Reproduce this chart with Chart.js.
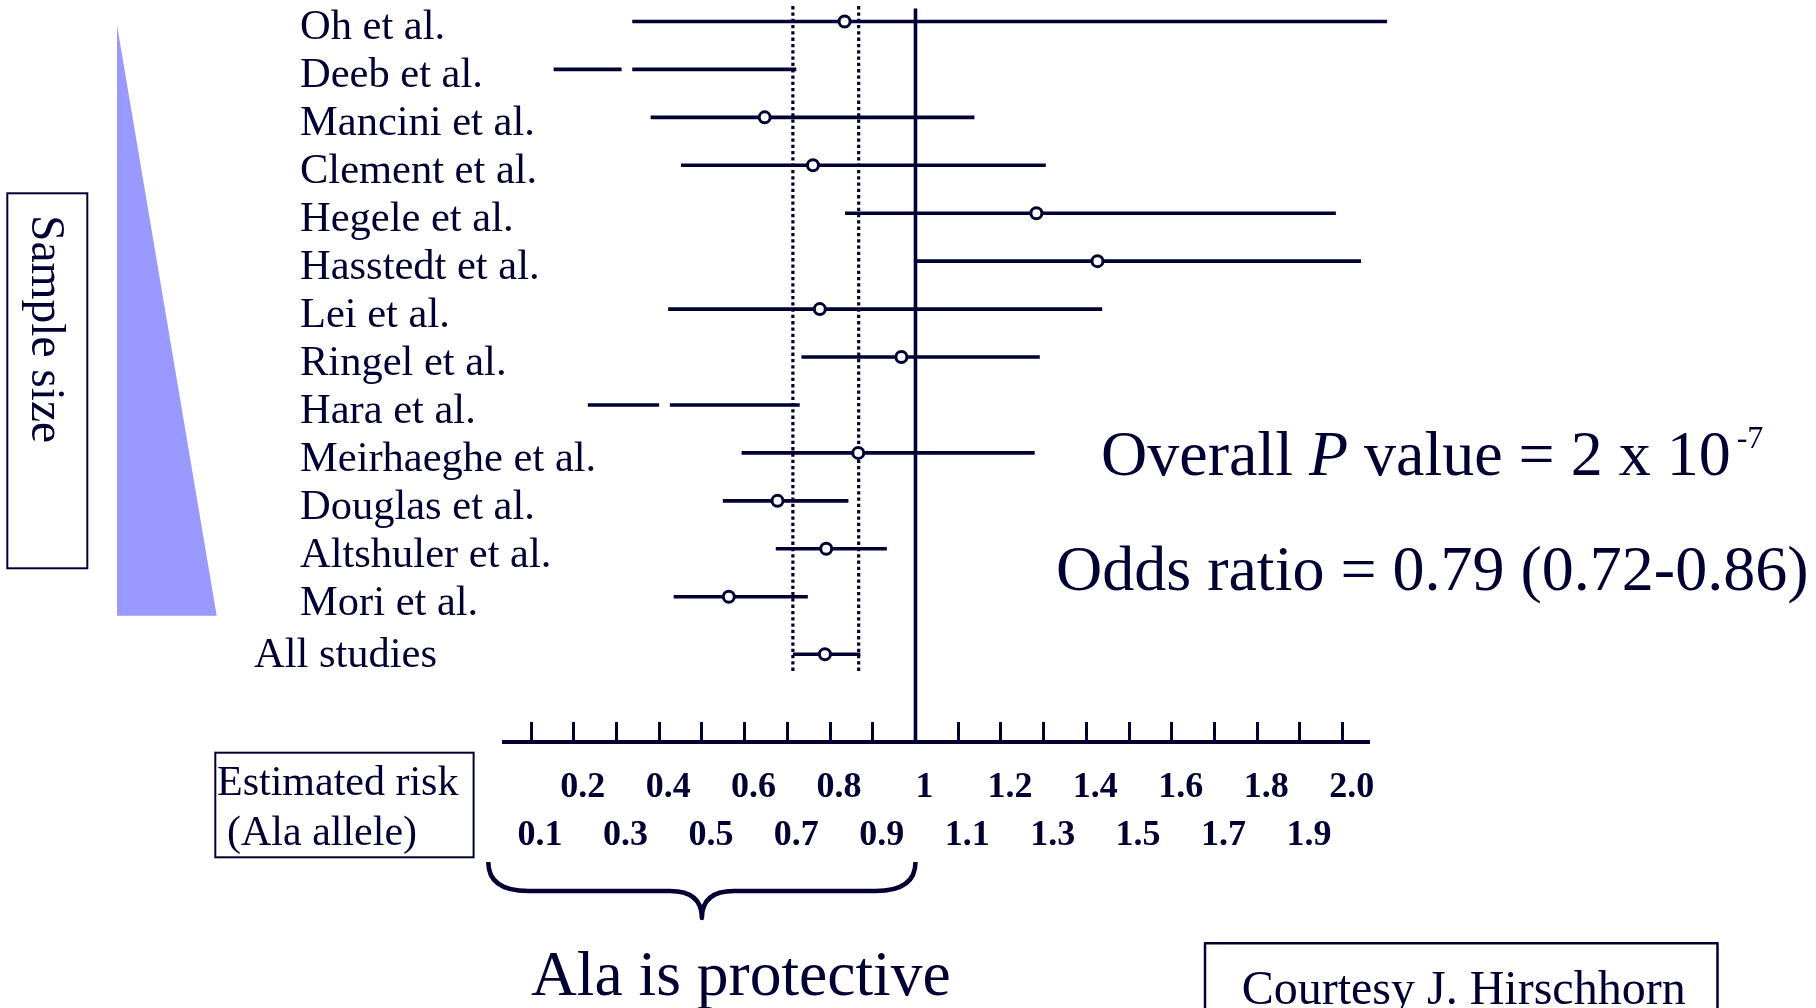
<!DOCTYPE html>
<html>
<head>
<meta charset="utf-8">
<title>Pro12Ala meta-analysis</title>
<script src="https://cdn.jsdelivr.net/npm/chart.js@4/dist/chart.umd.min.js"></script>
<style>
  html, body { margin: 0; padding: 0; background: #fff; }
  #wrap { width: 1816px; height: 1008px; }
</style>
</head>
<body>
<div id="wrap"><canvas id="forest" width="1816" height="1008"></canvas></div>
<script>
// studies, top to bottom (largest sample last), pooled result at the end
const studies = ['Oh et al.', 'Deeb et al.', 'Mancini et al.', 'Clement et al.', 'Hegele et al.',
  'Hasstedt et al.', 'Lei et al.', 'Ringel et al.', 'Hara et al.', 'Meirhaeghe et al.',
  'Douglas et al.', 'Altshuler et al.', 'Mori et al.', 'All studies'];
const oddsRatio = [0.834, null, 0.647, 0.760, 1.283, 1.426, 0.776, 0.967, null, 0.866, 0.677, 0.791, 0.563, 0.788];
const ciLow  = [0.337, 0.153, 0.380, 0.451, 0.835, 1.000, 0.421, 0.733, 0.233, 0.593, 0.549, 0.673, 0.434, 0.713];
const ciHigh = [2.104, 0.721, 1.138, 1.305, 1.984, 2.043, 1.437, 1.291, 0.729, 1.279, 0.843, 0.933, 0.748, 0.871];
// broken CI lines (start and end of the gap)
const ciBreak = [null, [0.312, 0.337], null, null, null, null, null, null, [0.400, 0.425], null, null, null, null, null];
const pooledCi = [0.713, 0.867];
const nullValue = 1;

const upperTickLabels = ['0.2', '0.4', '0.6', '0.8', '1', '1.2', '1.4', '1.6', '1.8', '2.0'];
const lowerTickLabels = ['0.1', '0.3', '0.5', '0.7', '0.9', '1.1', '1.3', '1.5', '1.7', '1.9'];

const INK = '#000033';
const SERIF = '"Liberation Serif", "Times New Roman", serif';

const yMin = -0.27, yMax = 15.03;
const rowY = i => (i === studies.length - 1 ? i + 0.2 : i); // pooled row a bit lower

const tickValues = upperTickLabels.concat(lowerTickLabels).map(Number).sort((a, b) => a - b);

const ciPoints = [];
studies.forEach((s, i) => {
  const y = rowY(i);
  ciPoints.push({ x: ciLow[i], y });
  if (ciBreak[i]) {
    ciPoints.push({ x: ciBreak[i][0], y }, { x: null, y: null }, { x: ciBreak[i][1], y });
  }
  ciPoints.push({ x: ciHigh[i], y }, { x: null, y: null });
});

const estimatePoints = studies
  .map((s, i) => ({ x: oddsRatio[i], y: rowY(i) }))
  .filter(p => p.x !== null);

function drawText(ctx, str, x, y, size, style) {
  ctx.font = (style || '') + ' ' + size + 'px ' + SERIF;
  ctx.fillStyle = INK;
  ctx.textAlign = 'left';
  ctx.textBaseline = 'alphabetic';
  ctx.fillText(str, x, y);
  return ctx.measureText(str).width;
}

const decorations = {
  id: 'decorations',
  afterDraw(chart) {
    const ctx = chart.ctx;
    const xs = chart.scales.x, ys = chart.scales.y;
    ctx.save();

    // sample size wedge
    ctx.fillStyle = '#9999ff';
    ctx.beginPath();
    ctx.moveTo(117, 25);
    ctx.lineTo(117, 615.7);
    ctx.lineTo(216.7, 615.7);
    ctx.closePath();
    ctx.fill();

    ctx.strokeStyle = INK;
    ctx.lineWidth = 2;
    ctx.strokeRect(7.3, 193.3, 80, 375);

    // rotated "Sample size"
    ctx.save();
    ctx.translate(31.7, 215);
    ctx.rotate(Math.PI / 2);
    drawText(ctx, 'Sample size', 0, 0, 47.5);
    ctx.restore();

    // study labels
    studies.forEach((s, i) => {
      const last = i === studies.length - 1;
      drawText(ctx, s, last ? 254 : 300, ys.getPixelForValue(i) + (last ? 22 : 18), 42.5);
    });

    // axis caption box
    ctx.strokeStyle = INK;
    ctx.lineWidth = 2;
    ctx.strokeRect(215.3, 752.7, 258.3, 104.6);
    drawText(ctx, 'Estimated risk', 217, 795, 42);
    drawText(ctx, '(Ala allele)', 227, 845, 42);

    // brace under OR < 1
    const L = xs.getPixelForValue(0), R = xs.getPixelForValue(nullValue), C = (L + R) / 2;
    ctx.lineWidth = 4.5;
    ctx.lineJoin = 'round';
    ctx.beginPath();
    ctx.moveTo(L, 862);
    ctx.quadraticCurveTo(L, 891, L + 40, 891);
    ctx.lineTo(C - 32, 891);
    ctx.quadraticCurveTo(C, 891, C, 918);
    ctx.quadraticCurveTo(C, 891, C + 32, 891);
    ctx.lineTo(R - 40, 891);
    ctx.quadraticCurveTo(R, 891, R, 862);
    ctx.stroke();
    drawText(ctx, 'Ala is protective', 531, 995, 63.5);

    // summary statistics
    let x = 1101;
    x += drawText(ctx, 'Overall ', x, 475, 64);
    x += drawText(ctx, 'P', x, 475, 64, 'italic');
    x += drawText(ctx, ' value = 2 x 10', x, 475, 64);
    drawText(ctx, '-7', x + 6, 448, 32);
    drawText(ctx, 'Odds ratio = 0.79 (0.72-0.86)', 1056, 590, 64);

    // credit box (runs off the bottom)
    ctx.lineWidth = 2.5;
    ctx.beginPath();
    ctx.moveTo(1205, 1012);
    ctx.lineTo(1205, 943.3);
    ctx.lineTo(1717.5, 943.3);
    ctx.lineTo(1717.5, 1012);
    ctx.stroke();
    drawText(ctx, 'Courtesy J. Hirschhorn', 1241.7, 1004, 48);

    ctx.restore();
  }
};

new Chart(document.getElementById('forest'), {
  type: 'line',
  data: {
    datasets: [
      {
        label: 'Odds ratio',
        data: estimatePoints,
        showLine: false,
        pointRadius: 5.5,
        pointBorderWidth: 3,
        pointBackgroundColor: '#ffffff',
        pointBorderColor: INK,
        order: 0,
        clip: false
      },
      {
        label: '95% CI',
        data: ciPoints,
        borderColor: INK,
        borderWidth: 3.6,
        pointRadius: 0,
        spanGaps: false,
        order: 1,
        clip: false
      },
      {
        label: 'No effect',
        data: [{ x: nullValue, y: yMin }, { x: nullValue, y: yMax }],
        borderColor: INK,
        borderWidth: 3.6,
        pointRadius: 0,
        order: 2,
        clip: false
      },
      ...pooledCi.map(v => ({
        label: 'Pooled CI',
        data: [{ x: v, y: -0.32 }, { x: v, y: 13.6 }],
        borderColor: INK,
        borderWidth: 3.2,
        borderDash: [3.3, 3],
        pointRadius: 0,
        order: 3,
        clip: false
      }))
    ]
  },
  options: {
    responsive: false,
    animation: false,
    devicePixelRatio: 1,
    layout: { padding: { left: 503.5, right: 447, top: 8, bottom: 0 } },
    plugins: { legend: { display: false }, tooltip: { enabled: false } },
    scales: {
      x: {
        type: 'linear',
        min: 0.0356,
        max: 2.0616,
        afterBuildTicks: s => { s.ticks = tickValues.map(v => ({ value: v })); },
        afterFit: s => { s.height = 266; },
        border: { display: true, color: INK, width: 4 },
        grid: { drawOnChartArea: false, drawTicks: true, tickLength: -20, tickWidth: 3, tickColor: INK },
        ticks: {
          autoSkip: false,
          maxRotation: 0,
          minRotation: 0,
          padding: 42,
          labelOffset: 9,
          color: INK,
          font: { family: SERIF, size: 36, weight: 'bold', lineHeight: '48px' },
          callback: v => {
            const up = upperTickLabels.find(t => Math.abs(Number(t) - v) < 1e-9);
            if (up) return [up, ''];
            const low = lowerTickLabels.find(t => Math.abs(Number(t) - v) < 1e-9);
            return ['', low || ''];
          }
        }
      },
      y: { type: 'linear', display: false, reverse: true, min: yMin, max: yMax }
    }
  },
  plugins: [decorations]
});
</script>
</body>
</html>
